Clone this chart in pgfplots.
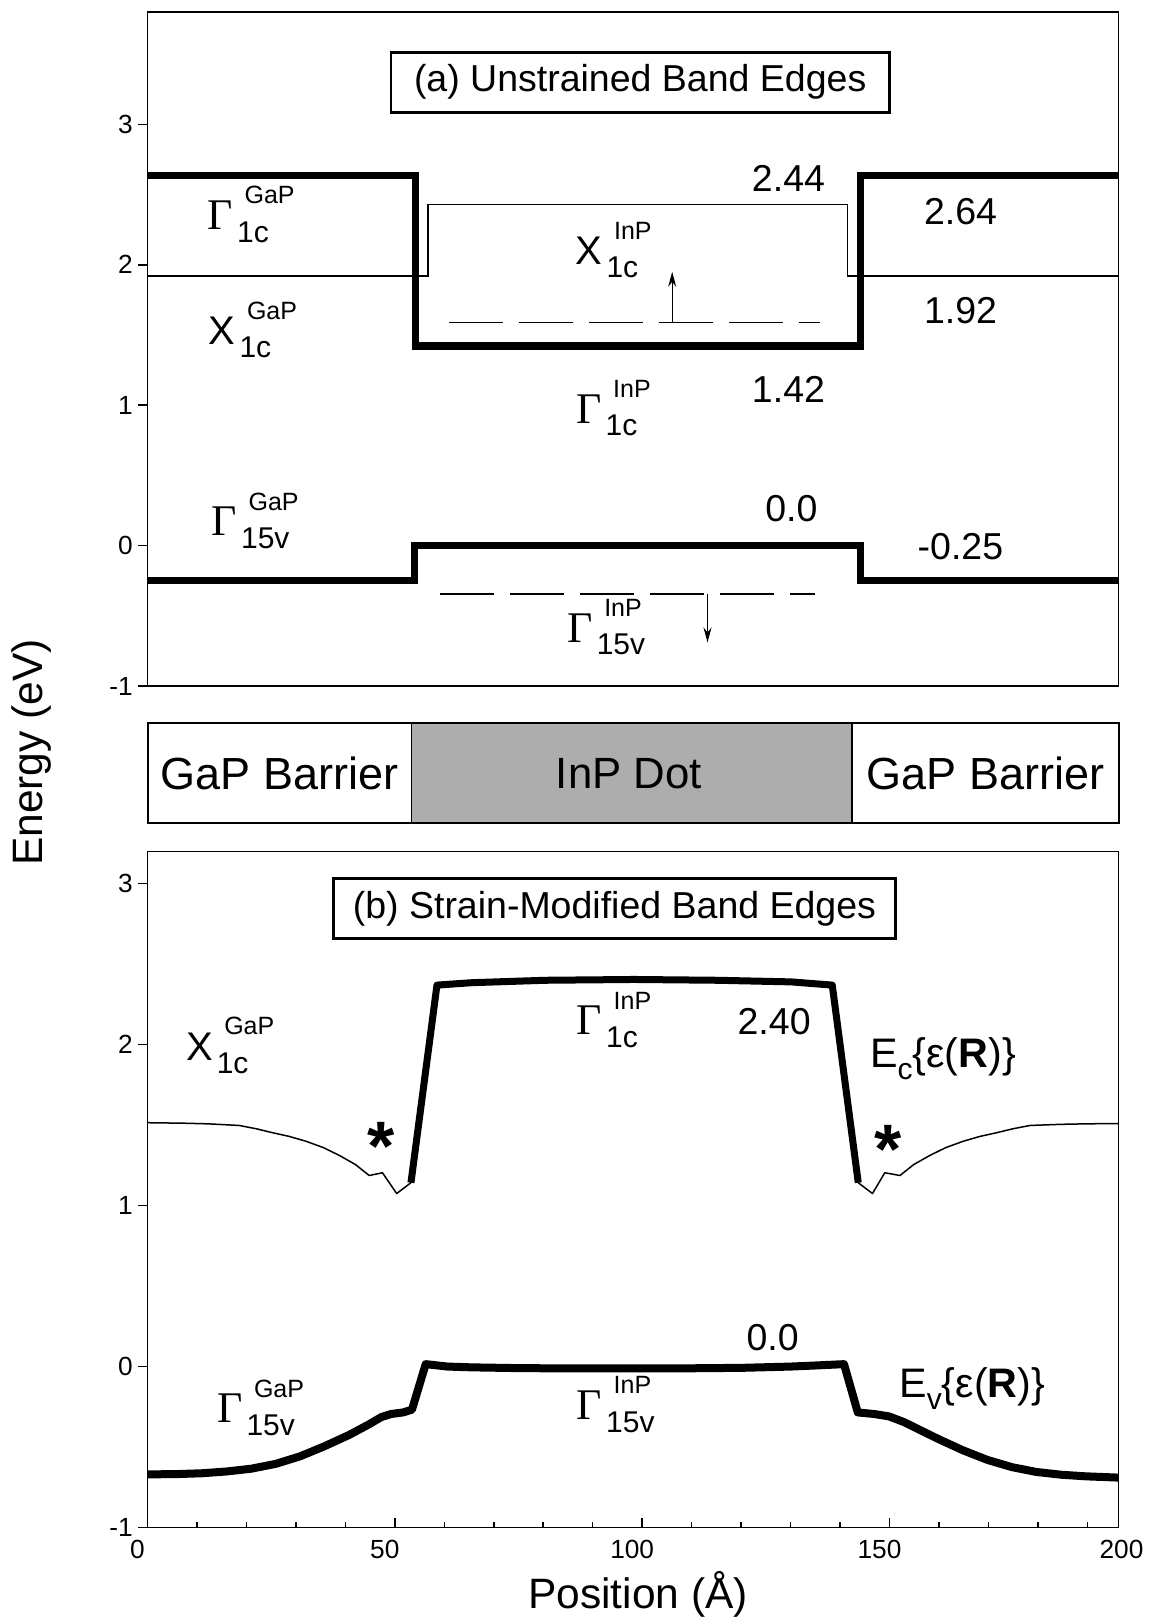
\documentclass[border=0pt]{standalone}
\usepackage{fontspec}
\setmainfont{Liberation Sans}
\newfontfamily\gfont{Liberation Serif}
\usepackage{pgfplots}
\pgfplotsset{compat=1.18}
\usetikzlibrary{arrows.meta}
\newcommand{\fs}[1]{\fontsize{#1}{#1}\selectfont}
\newcommand{\Gam}{{\gfont\fs{17.5}Γ}}
\newcommand{\Xb}{{\fs{16}X}}
\newcommand{\bandlab}[3]{\mbox{#1\kern1.6pt\rlap{\raisebox{10.3pt}{\fs{10}\kern3.0pt #3}}\raisebox{-5pt}{\fs{12}#2}}}
\newcommand{\Elab}[1]{\fs{16.5}E\raisebox{-4.8pt}{\fs{12}#1}\{ε(\textbf{R})\}}
\tikzset{lab/.style={inner sep=0pt}}
\begin{document}
\begin{tikzpicture}
\path[use as bounding box] (0,0) rectangle (461.6pt,-648.4pt);
\pgfplotsset{
  panel/.style={scale only axis, width=388.4pt, xmin=0, xmax=196.3, clip=false,
    axis line style={line width=0.65pt}, tick style={line width=0.6pt, black},
    /pgf/number format/assume math mode=true, tick label style={font=\fs{10.5}},
    ytick={-1,0,1,2,3}, tick pos=left, ytick style={xshift=-3.7pt},
    major tick length=3.7pt, minor tick length=2.4pt,
    yticklabel style={xshift=-2.4pt}}
}
% ---------------- top panel ----------------
\begin{axis}[panel, at={(59.0pt,-4.8pt)}, anchor=north west, height=269.6pt,
  ymin=-1, ymax=3.8, xtick=\empty]
\addplot[line width=3pt] coordinates {(0,2.635) (54.15,2.635) (54.15,1.42) (144.18,1.42) (144.18,2.635) (196.3,2.635)};
\addplot[line width=0.55pt] coordinates {(0,1.92) (56.73,1.92) (56.73,2.43) (141.5,2.43) (141.5,1.92) (196.3,1.92)};
\addplot[line width=3pt] coordinates {(0,-0.25) (53.95,-0.25) (53.95,0) (144.18,0) (144.18,-0.25) (196.3,-0.25)};
\addplot[line width=0.6pt, dash pattern=on 21.6pt off 6.4pt] coordinates {(61.0,1.59) (135.94,1.59)};
\addplot[line width=0.6pt, dash pattern=on 21.6pt off 6.4pt] coordinates {(59.22,-0.345) (134.85,-0.345)};
\addplot[line width=0.5pt, -{Stealth[length=6pt,width=3.2pt]}] coordinates {(106.07,1.59) (106.07,1.95)};
\addplot[line width=0.5pt, -{Stealth[length=6pt,width=3.2pt]}] coordinates {(113.21,-0.345) (113.21,-0.69)};
\node[draw, line width=1.05pt, inner sep=0pt, minimum width=199.3pt, minimum height=24pt, font=\fs{15}] at (axis cs:99.6,3.30) {(a) Unstrained Band Edges};
\node[lab, anchor=base west] at (axis cs:12.1,2.25) {\bandlab{\Gam}{1c}{GaP}};
\node[lab, anchor=base west] at (axis cs:12.3,1.43) {\bandlab{\Xb}{1c}{GaP}};
\node[lab, anchor=base west] at (axis cs:12.9,0.07) {\bandlab{\Gam}{15v}{GaP}};
\node[lab, anchor=base west] at (axis cs:86.5,2.0) {\bandlab{\Xb}{1c}{InP}};
\node[lab, anchor=base west] at (axis cs:86.6,0.87) {\bandlab{\Gam}{1c}{InP}};
\node[lab, anchor=base west] at (axis cs:84.8,-0.69) {\bandlab{\Gam}{15v}{InP}};
\node[lab, anchor=base west, font=\fs{15}] at (axis cs:122.1,2.52) {2.44};
\node[lab, anchor=base west, font=\fs{15}] at (axis cs:156.9,2.29) {2.64};
\node[lab, anchor=base west, font=\fs{15}] at (axis cs:156.9,1.58) {1.92};
\node[lab, anchor=base west, font=\fs{15}] at (axis cs:122.1,1.02) {1.42};
\node[lab, anchor=base west, font=\fs{15}] at (axis cs:124.8,0.17) {0.0};
\node[lab, anchor=base west, font=\fs{15}] at (axis cs:155.6,-0.10) {-0.25};
\end{axis}
% ---------------- middle schematic ----------------
\begin{axis}[scale only axis, at={(59.0pt,-289.3pt)}, anchor=north west, width=388.4pt, height=40pt,
  xmin=0, xmax=196.3, ymin=0, ymax=1, xtick=\empty, ytick=\empty,
  axis line style={line width=0.8pt}, axis on top, clip=false]
\addplot[draw=black, line width=0.6pt, fill=black!32] coordinates {(53.36,0) (53.36,1) (142.4,1) (142.4,0) (53.36,0)};
\node[font=\fs{18}] at (axis cs:26.7,0.5) {GaP Barrier};
\node[font=\fs{17.5}] at (axis cs:97.3,0.5) {InP Dot};
\node[font=\fs{18}] at (axis cs:169.4,0.5) {GaP Barrier};
\end{axis}
% ---------------- bottom panel ----------------
\begin{axis}[panel, at={(59.0pt,-340.6pt)}, anchor=north west, height=270.4pt,
  ymin=-1, ymax=3.2, xtick={0,50,100,150}, minor xtick={10,20,...,190},
  xticklabel style={yshift=-1.4pt, xshift=-4pt},
  extra x ticks={196.3}, extra x tick labels={200},
  extra x tick style={xtick style={draw=none}, tick label style={xshift=5.2pt}}]
% E_c thin outer parts
\addplot[line width=0.6pt, line join=round] coordinates {(0,1.515) (7.3,1.512) (12.27,1.508) (18.52,1.498) (21.9,1.478) (25.27,1.453) (28.64,1.43) (32.02,1.40) (35.59,1.36) (38.77,1.312) (42.04,1.255) (44.82,1.187) (47.5,1.204) (50.38,1.075) (53.26,1.142)};
\addplot[line width=0.6pt, line join=round] coordinates {(143.69,1.142) (146.56,1.075) (149.05,1.204) (152.12,1.187) (154.9,1.255) (158.18,1.312) (161.36,1.36) (164.93,1.40) (168.3,1.43) (171.68,1.453) (175.05,1.478) (178.43,1.498) (184.68,1.505) (189.64,1.508) (196.3,1.51)};
% E_c thick InP part
\addplot[line width=2.8pt, line join=round] coordinates {(53.26,1.142) (58.52,2.37) (65.57,2.385) (80.46,2.40) (98.32,2.405) (115.2,2.40) (130.1,2.39) (138.43,2.37) (143.69,1.142)};
% E_v
\addplot[line width=3.2pt, line join=round] coordinates {(0,-0.670) (6.01,-0.668) (10.98,-0.663) (15.94,-0.652) (20.9,-0.635) (25.87,-0.605) (30.83,-0.558) (35.79,-0.495) (40.75,-0.425) (44.72,-0.36) (47.21,-0.315) (49.19,-0.295) (51.67,-0.285) (53.46,-0.268) (56.24,0.015) (60.61,0.0) (65.57,-0.005) (75.5,-0.01) (90.38,-0.012) (105.27,-0.012) (120.16,-0.008) (130.09,0.0) (136.04,0.008) (140.81,0.015) (143.59,-0.285) (146.96,-0.295) (149.94,-0.31) (152.92,-0.345) (155.9,-0.39) (159.87,-0.45) (164.83,-0.52) (169.79,-0.58) (174.76,-0.625) (179.72,-0.655) (184.68,-0.672) (189.64,-0.682) (196.3,-0.69)};
\node[draw, line width=1.05pt, inner sep=0pt, minimum width=225pt, minimum height=24pt, font=\fs{15}] at (axis cs:94.4,2.846) {(b) Strain-Modified Band Edges};
\node[lab, anchor=base west] at (axis cs:7.7,1.90) {\bandlab{\Xb}{1c}{GaP}};
\node[lab, anchor=base west] at (axis cs:86.7,2.06) {\bandlab{\Gam}{1c}{InP}};
\node[lab, anchor=base west, font=\fs{15}] at (axis cs:119.2,2.06) {2.40};
\node[lab, anchor=base west] at (axis cs:146.0,1.86) {\Elab{c}};
\node[lab, anchor=base, font=\fs{28}\bfseries] at (axis cs:47.3,1.22) {*};
\node[lab, anchor=base, font=\fs{28}\bfseries] at (axis cs:149.8,1.20) {*};
\node[lab, anchor=base west, font=\fs{15}] at (axis cs:121.0,0.097) {0.0};
\node[lab, anchor=base west] at (axis cs:151.9,-0.19) {\Elab{v}};
\node[lab, anchor=base west] at (axis cs:14.0,-0.35) {\bandlab{\Gam}{15v}{GaP}};
\node[lab, anchor=base west] at (axis cs:86.7,-0.33) {\bandlab{\Gam}{15v}{InP}};
\end{axis}
\node[lab, rotate=90, anchor=base, font=\fs{17}] at (16.9pt,-301pt) {Energy (eV)};
\node[lab, anchor=base, font=\fs{17}] at (255.2pt,-643.3pt) {Position (Å)};
\end{tikzpicture}
\end{document}
